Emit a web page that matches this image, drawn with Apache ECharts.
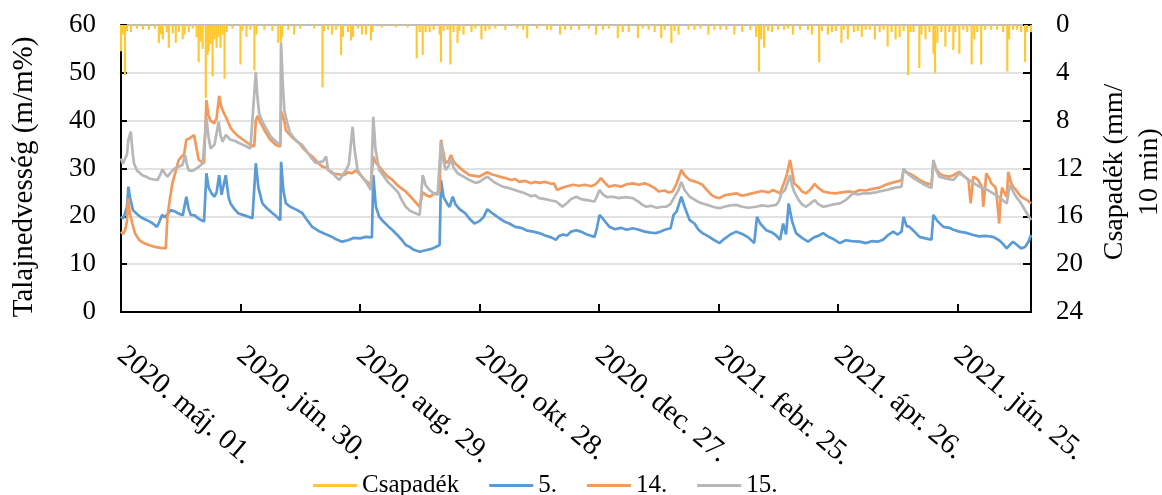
<!DOCTYPE html>
<html><head><meta charset="utf-8">
<script src="https://cdn.jsdelivr.net/npm/echarts@6/dist/echarts.min.js"></script>
<style>html,body{margin:0;padding:0;background:#fff}#c{width:1162px;height:495px}</style>
</head><body><div id="c"></div>
<script>
// x values are days since 2020-05-01
const xTickLabels = ['2020. máj. 01.','2020. jún. 30.','2020. aug. 29.','2020. okt. 28.','2020. dec. 27.','2021. febr. 25.','2021. ápr. 26.','2021. jún. 25.'];
const seriesNames = ['Csapadék','5.','14.','15.'];

const rain = [[0,2.2],[1,0.8],[2,4.2],[3,0.5],[5,0.6],[8,0.3],[11,0.4],[14,0.4],[17,0.3],[19,1.5],[20,0.8],[21,1.2],[23,0.6],[24,1.9],[26,0.7],[27.5,1.5],[29,0.6],[31,1.2],[32,0.8],[34,0.6],[36,0.3],[38,1.0],[39,3.1],[40,1.4],[41,2.0],[42.6,6.1],[43.5,2.5],[44,2.2],[45,1.6],[46,4.3],[47,1.2],[48,1.9],[49,1.0],[50,1.9],[51,0.8],[52,4.5],[53,0.6],[56,0.3],[60,3.3],[61,0.5],[63,1.0],[65,0.4],[67,3.8],[68,0.8],[72,0.4],[76,0.5],[79,1.5],[80.3,5.0],[81,1.0],[84,0.4],[87,0.8],[90,0.3],[97,0.3],[101.2,5.2],[102,0.5],[104,0.4],[106,0.8],[108,0.4],[110.5,2.5],[111.5,1.0],[114,0.6],[115.5,1.3],[116.5,1.0],[119,0.3],[121,0.8],[123,0.8],[125.5,1.3],[126.3,0.6],[131,0.2],[138,0.2],[144,0.2],[148.5,2.8],[150,0.6],[151.5,2.5],[153,0.6],[155,0.6],[157,0.4],[160,0.8],[160.7,3.1],[162,0.5],[164,0.4],[165.4,3.3],[167,0.6],[169,1.5],[170,0.5],[172,0.8],[176,0.6],[178,0.3],[181,1.2],[183,0.5],[185,0.4],[188,0.3],[193,0.4],[199,0.3],[202,0.4],[204,1.1],[209,0.3],[214,0.4],[216,0.4],[220.5,0.8],[223,0.4],[226,0.4],[230,0.4],[235,0.3],[238.6,0.8],[242,0.4],[245,0.3],[249.5,1.1],[252,0.6],[255,0.6],[259.6,1.1],[262,0.3],[265,0.4],[268,0.6],[271.3,1.1],[273,0.4],[276.4,1.5],[278,0.5],[280,0.8],[285,0.4],[288,0.4],[291,0.3],[295,0.8],[298,0.4],[301,0.4],[304,0.4],[308,0.8],[312,0.6],[316,0.4],[319,1.0],[320.4,3.9],[321.5,1.2],[323,1.9],[325,0.5],[327,0.6],[330,0.4],[333,0.4],[335,0.3],[337.5,0.8],[341,0.4],[345,0.4],[347,0.8],[350.6,3.1],[352,0.5],[355,0.8],[357,0.6],[359,0.5],[361.8,1.5],[363,0.4],[365,1.2],[368,0.6],[370,0.5],[372,1.0],[374,0.4],[376,0.4],[378.6,1.2],[381,0.6],[383,0.4],[385,1.8],[387,0.6],[389,1.2],[391,1.0],[393,0.5],[395.3,4.2],[396.5,0.6],[398,0.6],[400.9,3.6],[402,0.8],[404,1.2],[406,0.6],[408,2.4],[408.8,4.0],[410,1.5],[412,0.6],[414,1.8],[416,0.6],[418,2.1],[419,0.6],[421,2.4],[423,0.4],[425,0.6],[427.2,3.3],[428.5,1.2],[430,0.6],[432,3.3],[434,0.4],[437,0.4],[440,0.4],[443,0.6],[445.1,3.9],[446,1.2],[448,0.4],[450,0.4],[452,0.6],[454,3.1],[455,0.6],[457,0.6]];

const s5 = [[0,20.0],[1,19.5],[2,20.6],[3,22],[3.7,26.2],[4.5,24],[6,21.3],[8,20.5],[10,19.8],[12,19.4],[14,19.0],[16,18.5],[18,17.8],[19,18.6],[20.6,20.3],[22,19.8],[25,21.3],[27,21.0],[29,20.6],[31,20.2],[32.8,24.1],[34,21.5],[35,20.3],[37,20.2],[39,19.5],[41.7,18.9],[42.9,29],[44,26],[45.5,24.8],[46.8,24.1],[48,25],[49.3,28.6],[50.5,24.5],[51.5,24.2],[52.6,28.6],[54,24],[55,22.7],[57,21.5],[59,20.6],[62,20.2],[64,19.9],[66,19.6],[67.7,31.1],[69,26],[71,22.7],[73,21.8],[76,20.7],[78,20.0],[80,19.2],[80.4,31.4],[81.5,25.5],[82.8,22.7],[85,22],[88,21.4],[91,20.7],[93,19.5],[96,17.8],[99,17.0],[102,16.4],[106,15.7],[108,15.2],[111,14.7],[114,15.0],[117,15.5],[120,15.4],[123,15.7],[126,15.6],[126.7,28.6],[128,22],[129.7,19.9],[132,18.8],[134,18.0],[136.4,17.1],[139,16.0],[141,15.1],[143,14.0],[145,13.6],[147,13.0],[150,12.6],[153,12.9],[156,13.2],[158,13.6],[160,14.0],[160.7,27.6],[162,24],[164,22.5],[165,22.0],[166.6,24.1],[168,22.5],[170,21.5],[173,20.6],[175,19.5],[177.5,18.5],[180,19.0],[182,19.8],[184,21.5],[186,20.8],[188,20.2],[190,19.6],[193,18.8],[195,18.5],[198,17.8],[201,17.6],[204,17.0],[207,16.8],[210,16.5],[213,16.0],[216,15.6],[218.5,15.1],[220,15.9],[222,16.2],[224,16.0],[226,16.8],[228.6,17.1],[231,16.8],[234,16.2],[237.8,15.7],[239,17.5],[240.3,20.3],[242,19.5],[245.3,17.8],[248,17.3],[251,17.6],[254,17.2],[257,17.5],[260,17.2],[263,16.8],[266,16.6],[268.8,16.5],[271,16.8],[273,17.2],[276,17.5],[277.5,20.3],[279,21],[281.4,24.1],[283,22],[285.6,19.2],[288,18.5],[290,17.2],[292,16.5],[295,15.8],[298,15.0],[300.6,14.4],[303,15.3],[306,16.2],[309,16.8],[312,16.3],[315,15.6],[318,14.4],[319.4,19.9],[321,18.5],[324,17.1],[327,16.6],[329,16.0],[331,15.1],[332.5,18.5],[334,16.2],[335.3,22.7],[337,19],[339,16.5],[342,15.5],[345,14.7],[348,15.6],[350,15.9],[352.6,16.5],[355,15.8],[358,15.2],[361,14.4],[364,15.0],[367,14.8],[371,14.7],[374,14.4],[377,14.8],[380,14.7],[382.7,15.1],[385,16.0],[387.8,16.8],[390,16.2],[392,16.8],[393,19.9],[394.5,18],[396,17.8],[398,17.0],[401,15.7],[404,15.4],[407,15.1],[408,20.3],[410,19],[413,17.8],[416,17.6],[418,17.2],[421,16.8],[424,16.6],[428,16.1],[431,15.8],[434,15.9],[438,15.7],[441,15.0],[443,14.2],[444.8,13.3],[446.5,14.1],[448,14.7],[450,14.0],[452,13.3],[454,13.6],[456,14.9],[457,16.1]];

const s14 = [[0,16.8],[1,16.3],[2,17],[3,19],[3.5,23.8],[4.5,20.5],[5.7,18.5],[7,16.5],[9,15.1],[11,14.5],[14,14.0],[17,13.6],[20,13.4],[22.5,13.3],[23.3,19.9],[24.5,23.5],[25.8,26.9],[27.5,29.5],[29,31.8],[30.5,32.5],[31.7,33],[32.8,36],[34,36.2],[36.7,37],[37.5,37.1],[38.5,33],[39,31.8],[41.7,31.1],[42.9,44.3],[44,41],[45,40],[46.8,39.4],[48,40.5],[49.3,45.2],[50.3,43],[51,42.2],[53.4,40.1],[55,38.5],[57,37.5],[59,36.7],[62,35.8],[64,35.2],[66.9,34.6],[67.7,40],[68.5,41],[69.5,40],[72,38],[75,36],[77.8,34.9],[80,34.6],[80.4,42],[82,40],[82.8,38],[86,36.5],[89.5,35.3],[92,34],[94,33.2],[96,32.5],[99,31.2],[101,30.4],[103,30.2],[106,29],[109,28.8],[112,28.6],[114,29.2],[116,29],[118,29.6],[121,28.3],[123,27.4],[125.5,26.6],[126.7,32.5],[128,31.2],[129.7,30.4],[132,29.2],[134,28.3],[136.4,27.6],[139,26.4],[141,25.8],[143,25.2],[145,24.3],[147,23.4],[150,22.0],[151.5,25],[153,24.5],[155,24.1],[157,24.6],[160,25.2],[160.7,36],[162,33],[163,31.1],[164.5,31.6],[165.7,32.8],[167,31.5],[168,31],[170,30.2],[172,29.5],[175,28.6],[177,28.5],[180,28.3],[182,28.8],[184,29.2],[186,28.8],[188,28.6],[190,28.3],[193,28],[196,27.6],[198,27.8],[200,27.2],[203,27.4],[206,26.9],[208,27.2],[210,27.0],[213,27.2],[216,26.8],[217.5,26.9],[219,25.5],[221,25.9],[224,26.3],[227,26.6],[230,26.4],[233,26.6],[236,26.3],[238,26.6],[239.5,27.2],[241,28],[243,27],[245,26.2],[248,26.5],[251,26.2],[254,26.7],[257,26.9],[260,26.6],[263,26.9],[265,26.6],[268,25.9],[270,25.2],[273,25.4],[275,25.0],[277,25.2],[279,26.8],[281.4,29.7],[283,28.6],[285.6,27.6],[288,27.3],[290,27.0],[292,26.6],[294,25.6],[296.5,24.5],[298.5,24.0],[300.6,23.8],[303,24.4],[306,24.6],[309,24.8],[312,24.3],[315,24.6],[319,25.0],[322,25.3],[325,25.0],[327.5,25.5],[331,24.8],[333.5,27.6],[334.5,29],[336,31.8],[337,29.5],[338,26.9],[340,26.2],[342,25.2],[344,24.8],[346,25.5],[348.4,26.8],[350,26.0],[352.6,25.2],[356,24.9],[359,24.8],[362,25.0],[366,25.2],[368,25.0],[371,25.5],[374,25.4],[378,25.8],[381,26.0],[384,26.6],[387,27.0],[390,27.3],[392,27.6],[393,29.7],[394.5,29.2],[396,28.9],[398,28.5],[401,27.6],[404,27.0],[407,26.6],[408,31.4],[409.5,29.8],[411,29],[413,28.5],[416,28.3],[418,28.6],[421,29.3],[423,28.5],[425.6,27.6],[426.7,22.7],[427.5,26],[428,28.3],[430,27.8],[431,27.2],[432.5,26],[433,22],[434,26],[434.5,29],[436,28],[437,26.9],[439,26.2],[439.6,25.2],[441,18.5],[441.8,24],[442.5,26],[443.5,25],[444.8,24.1],[445.6,29.3],[447,27],[448,26.2],[450,25.2],[452,24.1],[455,23.4],[457,22.7]];

const s15 = [[0,32.1],[1,31],[2,31],[3,33],[3.7,36],[4.9,37.7],[5.7,34],[6.5,31.1],[8,29.6],[10.7,28.6],[13,28.2],[15,27.8],[18.3,27.6],[19.5,28.5],[20.8,29.8],[22,29],[23.3,28.3],[25,29.2],[26.6,29.9],[28.5,30.3],[30.8,30.7],[32.2,32.8],[33,31],[34,29.6],[36,29.5],[37.5,29.9],[39.5,30.5],[41,31.1],[42.9,40.5],[44,36.5],[45,34.2],[47,35],[49,39.8],[50,37],[51,35.6],[52.6,37],[55,36],[57,35.8],[59,35.4],[62,34.8],[65,34.2],[67.7,50.2],[68.5,45],[69.4,41.5],[71,39.8],[73,38.3],[75,36.8],[77.8,35.6],[80,35],[80.4,56.2],[81.2,48],[82,42.2],[83.5,39.5],[85,37.4],[88,35.8],[91,34.9],[94,33.2],[96,32],[98,31.1],[100,31.4],[101.5,31.5],[103,32.5],[104,29.6],[106,29.3],[108,28.2],[109.6,27.6],[111,28.5],[113,29.6],[114.5,31],[116.3,38.7],[117.3,34],[118.8,29.7],[121,28.3],[123,27.2],[125.5,25.5],[126.7,40.8],[127.8,34],[129.7,29.7],[132,28.4],[134,27.2],[136.4,26.2],[139,25.1],[141,23.4],[143,22.0],[145,21.2],[147,20.8],[150,20.3],[151.5,28.6],[153,26.5],[154.9,25.5],[157,24.8],[159,24.5],[160.7,35.6],[162,31.5],[163,29.7],[164.5,30.5],[165.7,32.1],[167,30.2],[169,29],[172,28.3],[175,27.6],[178,27.0],[180,27.2],[182,27.8],[184,28.3],[186,27.6],[188,27.0],[191.7,26.2],[194,26.0],[197,25.6],[200,25.2],[203,24.8],[206,24.2],[208,24.4],[210,23.8],[213,23.6],[216,23.3],[218.5,23.1],[220,22.6],[221.7,22.0],[224,22.8],[226,23.6],[228.6,24.1],[231,23.6],[234,23.4],[237.8,23.1],[239,24.2],[240.3,25.5],[242,24.6],[244,24.0],[247,24.1],[250,23.8],[253,24.0],[257,23.8],[260,23.0],[262,22.4],[263.8,22.0],[266,22.2],[269,21.8],[272,22.0],[273.8,22.0],[276,22.6],[278,24.1],[280,25.5],[281.4,27.2],[283,25.5],[285.6,24.1],[288,23.5],[290,23.0],[292,22.7],[295,22.3],[298,21.9],[300.6,21.7],[303,22.0],[306,22.3],[309,22.4],[312,22.0],[315,21.8],[319,22.0],[322,22.3],[325,22.1],[329,22.4],[330.5,23.2],[331.6,24.8],[333.5,25.5],[336,28.6],[337,26.5],[338,25.2],[340,23.6],[342,22.5],[344,22.0],[346,22.6],[348.4,23.4],[350,22.6],[352.6,22.0],[355,22.2],[358,22.5],[361,22.7],[364,23.4],[367.7,24.8],[370,24.6],[373,24.8],[376,24.8],[379,25.0],[382,25.3],[384.4,25.5],[387,25.8],[389,26.0],[392,26.2],[393,30],[394.5,29.2],[396,28.6],[398,28.0],[401,27.2],[404,26.5],[407,25.9],[408,31.8],[409.5,29.5],[411,28.3],[414,27.9],[418,27.6],[421,29],[423,28.5],[426,27.6],[428,27.0],[431,26.2],[434,25.8],[436,25.3],[438,24.8],[441,24.0],[443,23.3],[444.8,22.7],[446.4,26.6],[448,25.2],[450,23.8],[451.4,23.1],[453,22],[455,20.6],[457,19.2]];

const FONT = "'Liberation Serif','Times New Roman',serif";
const chart = echarts.init(document.getElementById('c'), null, {renderer:'canvas'});
const lineSeries = (name, data, color) => ({
  name, type:'line', data, xAxisIndex:0, yAxisIndex:0, showSymbol:false, symbol:'none',
  lineStyle:{width:2.7, color}, itemStyle:{color}, animation:false
});
chart.setOption({
  animation:false,
  backgroundColor:'#fff',
  grid:{left:121, right:131, top:25, bottom:183, outerBoundsMode:'none', containLabel:false,
    show:true, borderColor:'#404040', borderWidth:1.5, backgroundColor:'transparent'},
  legend:{
    data:seriesNames, left:308, top:468, icon:'rect', itemWidth:44, itemHeight:3, itemGap:30,
    textStyle:{fontFamily:FONT, fontSize:25, color:'#000'}
  },
  xAxis:{
    type:'value', min:0, max:457, interval:60,
    axisLine:{show:true, lineStyle:{color:'#000', width:2}},
    axisTick:{show:true, inside:true, length:8, lineStyle:{color:'#000', width:2}},
    splitLine:{show:false},
    axisLabel:{rotate:-40, margin:40, fontFamily:FONT, fontSize:29, color:'#000', showMaxLabel:false,
      formatter:v => (v % 60 === 0 && xTickLabels[v/60] !== undefined) ? xTickLabels[v/60] : ''}
  },
  yAxis:[{
    type:'value', min:0, max:60, interval:10, position:'left',
    name:'Talajnedvesség (m/m%)', nameLocation:'middle', nameGap:82, nameRotate:90,
    nameTextStyle:{fontFamily:FONT, fontSize:29, color:'#000', padding:[0,17,0,0]},
    axisLine:{show:true, lineStyle:{color:'#000', width:2}},
    axisTick:{show:true, inside:true, length:6, lineStyle:{color:'#000', width:2}},
    splitLine:{show:true, lineStyle:{color:'#d9d9d9', width:1.5}},
    axisLabel:{margin:25, fontFamily:FONT, fontSize:27, color:'#000'}
  },{
    type:'value', min:0, max:24, interval:4, position:'right', inverse:true,
    name:'Csapadék (mm/\n10 min)', nameLocation:'middle', nameGap:66, nameRotate:90,
    nameTextStyle:{fontFamily:FONT, fontSize:28, color:'#000', lineHeight:35, align:'center', padding:[0,7,0,0]},
    axisLine:{show:true, lineStyle:{color:'#000', width:2}},
    axisTick:{show:true, inside:true, length:8, lineStyle:{color:'#000', width:2}},
    splitLine:{show:false},
    axisLabel:{margin:25, fontFamily:FONT, fontSize:27, color:'#000'}
  }],
  series:[
    lineSeries('5.', s5, '#5B9BD5'),
    lineSeries('14.', s14, '#F29A5E'),
    lineSeries('15.', s15, '#B7B7B7'),
    {name:'Csapadék', type:'bar', data:rain, xAxisIndex:0, yAxisIndex:1, barWidth:2.2,
      itemStyle:{color:'#FFC832'}, animation:false}
  ]
});
</script></body></html>
